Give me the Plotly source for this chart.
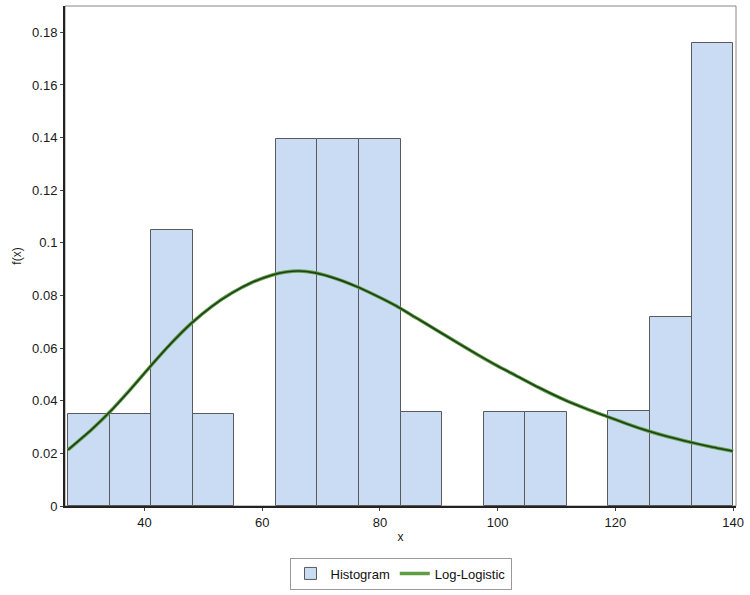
import plotly.graph_objects as go

# Histogram bins (left edges) and densities
bin_left = [27.0, 34.06, 41.12, 48.19, 55.25, 62.31, 69.38, 76.44, 83.5, 90.56,
            97.62, 104.69, 111.75, 118.81, 125.88, 132.94]
bin_width = 7.06
density = [0.0349, 0.0349, 0.1047, 0.0349, None, 0.1396, 0.1396, 0.1396, 0.0359, None,
           0.0359, 0.0359, None, 0.0362, 0.0718, 0.1760]

# Log-logistic curve
curve_x = [27.0, 31.0, 34.1, 37.5, 40.9, 44.4, 47.9, 51.4, 54.9, 58.3, 61.6, 64.0,
           66.2, 69.0, 72.4, 75.8, 79.3, 82.8, 86.3, 89.8, 93.2, 96.6, 100.0, 103.0,
           107.0, 111.2, 115.0, 118.6, 122.0, 125.6, 129.0, 132.6, 136.0, 140.0]
curve_y = [0.0213, 0.0290, 0.0357, 0.0440, 0.0528, 0.0615, 0.0693, 0.0758, 0.0810,
           0.0850, 0.0877, 0.0889, 0.0893, 0.0886, 0.0865, 0.0836, 0.0800, 0.0760,
           0.0713, 0.0666, 0.0620, 0.0575, 0.0532, 0.0497, 0.0450, 0.0405, 0.0370,
           0.0340, 0.0312, 0.0285, 0.0263, 0.0243, 0.0226, 0.0208]

x_ticks = [40, 60, 80, 100, 120, 140]
y_ticks = [0, 0.02, 0.04, 0.06, 0.08, 0.1, 0.12, 0.14, 0.16, 0.18]

fig = go.Figure()
fig.add_trace(go.Bar(
    x=bin_left, y=density, width=[bin_width] * len(bin_left), offset=0,
    name="Histogram",
    marker=dict(color="#cadcf3", line=dict(color="#5a5a5a", width=1)),
))
fig.add_trace(go.Scatter(
    x=curve_x, y=curve_y, mode="lines", name="Log-Logistic",
    line=dict(color="#5f9e45", width=3.5, shape="spline", smoothing=0.6),
))
fig.add_trace(go.Scatter(
    x=curve_x, y=curve_y, mode="lines", name="Log-Logistic", showlegend=False,
    line=dict(color="#1d3f1a", width=1.6, shape="spline", smoothing=0.6),
    hoverinfo="skip",
))

fig.update_layout(
    width=750, height=595,
    margin=dict(l=65, r=12, t=6, b=86),
    paper_bgcolor="white", plot_bgcolor="white",
    font=dict(family="Liberation Sans, Arial", size=13, color="#1a1a1a"),
    bargap=0,
    showlegend=True,
    legend=dict(orientation="h", x=0.5, xanchor="center", y=-0.135, yanchor="middle",
                bordercolor="#999", borderwidth=1, font=dict(size=13, color="#111"),
                itemwidth=30, tracegroupgap=0),
    shapes=[dict(type="rect", xref="paper", yref="paper", x0=0, y0=0, x1=1, y1=1,
                 line=dict(color="#888", width=1), layer="below")],
)
fig.update_xaxes(
    range=[26.5, 140.5], tickvals=x_ticks, showgrid=False, zeroline=False,
    showline=True, linecolor="#222", linewidth=2, ticks="outside", ticklen=3,
    tickcolor="#444", tickfont=dict(size=13),
    title=dict(text="x", standoff=4, font=dict(size=12)),
)
fig.update_yaxes(
    range=[0, 0.19], tickvals=y_ticks, showgrid=False, zeroline=False,
    showline=True, linecolor="#222", linewidth=2, ticks="outside", ticklen=3,
    tickcolor="#444", tickfont=dict(size=13),
    title=dict(text="f(x)", standoff=8, font=dict(size=12)),
)

fig.write_html("out.html")
